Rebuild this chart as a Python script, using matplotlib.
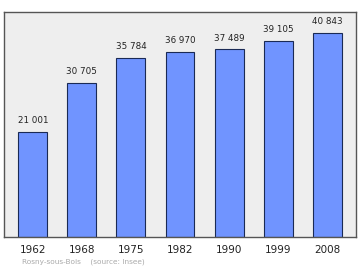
import matplotlib.pyplot as plt

years = ['1962', '1968', '1975', '1982', '1990', '1999', '2008']
population = [21001, 30705, 35784, 36970, 37489, 39105, 40843]
source = 'Rosny-sous-Bois    (source: Insee)'

fig = plt.figure(figsize=(3.6, 2.7), dpi=100)
ax = fig.add_axes([0.011, 0.122, 0.978, 0.834])
ax.set_facecolor('#eeeeee')

x = range(len(years))
bars = ax.bar(x, population, width=0.59, color='#7094ff', edgecolor='#1a2a55', linewidth=0.8)

for xi, v in zip(x, population):
    label = '{:,}'.format(v).replace(',', ' ')
    ax.annotate(label, (xi, v), xytext=(0, 5), textcoords='offset points',
                ha='center', va='bottom', fontsize=6.3, color='#222222')

ax.set_xlim(-0.59, len(years) - 1 + 0.59)
ax.set_ylim(0, 45000)
ax.set_xticks(list(x))
ax.set_xticklabels(years, fontsize=7.5, color='#222222')
ax.set_yticks([])
ax.tick_params(axis='x', length=0, pad=6)
for s in ax.spines.values():
    s.set_color('#555555')
    s.set_linewidth(1.0)

fig.text(0.06, 0.025, source, fontsize=5.3, color='#aaaaaa')

plt.savefig('out.png', dpi=100)
